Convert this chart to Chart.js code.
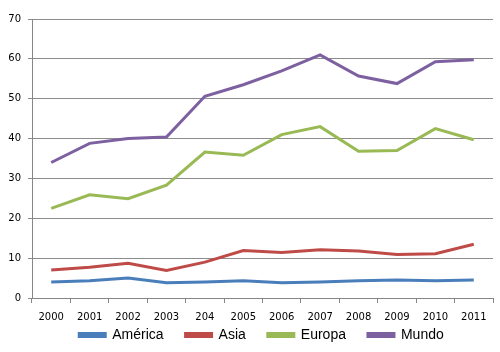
<!DOCTYPE html>
<html><head><meta charset="utf-8">
<script src="https://cdn.jsdelivr.net/npm/chart.js@4"></script>
<style>html,body{margin:0;padding:0;background:#fff}#w{width:500px;height:352px}</style>
</head><body><div id="w"><canvas id="c"></canvas></div>
<script>
const categories = ["2000","2001","2002","2003","204","2005","2006","2007","2008","2009","2010","2011"];
const america = [4.0,4.3,5.0,3.8,4.0,4.3,3.8,4.0,4.3,4.5,4.3,4.5];
const asia    = [7.0,7.7,8.7,6.9,9.0,11.9,11.4,12.1,11.8,10.9,11.1,13.5];
const europa  = [22.5,25.9,24.9,28.3,36.6,35.8,41.0,43.0,36.8,37.0,42.5,39.7];
const mundo   = [34.0,38.8,40.0,40.4,50.6,53.5,57.0,61.0,55.7,53.8,59.3,59.8];
const yTicks = [0,10,20,30,40,50,60,70];

const LEG_CUT = 25, LEG_DX = 15;
const legendAdjust = {
  id: 'legendAdjust',
  beforeLayout(chart) {
    const lg = chart.legend;
    if (lg && !lg.__p) {
      const f = lg.fit;
      lg.fit = function() { f.apply(this, arguments); this.height -= LEG_CUT; };
      lg.__p = true;
    }
  },
  afterLayout(chart) {
    const lg = chart.legend; if (!lg) return;
    lg.top -= LEG_CUT; lg.left += LEG_DX; lg.right += LEG_DX;
  }
};

const mk = (label, data, color) => ({label, data, borderColor: color, backgroundColor: color,
  borderWidth: 3, pointRadius: 0, tension: 0, fill: false});

new Chart(document.getElementById('c'), {
  type: 'line',
  plugins: [legendAdjust],
  data: { labels: categories, datasets: [
    mk('América', america, '#4a7ebb'),
    mk('Asia', asia, '#be4b48'),
    mk('Europa', europa, '#98b954'),
    mk('Mundo', mundo, '#7d60a0')
  ]},
  options: {
    responsive: true, maintainAspectRatio: false, animation: false,
    layout: { padding: { left: 0, right: 7, top: 19, bottom: 0 } },
    plugins: {
      tooltip: { enabled: false },
      legend: { position: 'bottom',
        labels: { boxWidth: 26, boxHeight: 3, padding: 22, color: '#000',
          font: { family: 'Liberation Sans', size: 14 } } }
    },
    scales: {
      x: { offset: true,
        grid: { offset: true, drawOnChartArea: false, drawTicks: true, tickLength: 5, color: '#868686' },
        border: { color: '#868686' },
        ticks: { color: '#000', font: { family: 'DejaVu Sans', size: 10 }, maxRotation: 0, autoSkip: false, padding: 8 } },
      y: { min: 0, max: 70,
        afterBuildTicks: s => { s.ticks = yTicks.map(v => ({value: v})); },
        afterFit: s => { s.width = 32; },
        grid: { color: '#8c8c8c', tickLength: 4 },
        border: { color: '#868686' },
        ticks: { color: '#000', font: { family: 'DejaVu Sans', size: 10 }, padding: 7 } }
    }
  }
});
</script></body></html>
